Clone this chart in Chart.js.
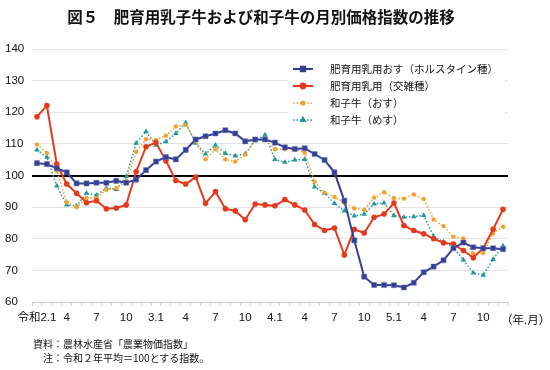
<!DOCTYPE html>
<html lang="ja">
<head>
<meta charset="utf-8">
<script src="https://cdn.jsdelivr.net/npm/chart.js@4.4.1/dist/chart.umd.min.js"></script>
<style>
  body { margin: 0; background: #fff; }
  #wrap { position: relative; width: 550px; height: 370px; background: #fff; }
  #chart { position: absolute; left: 0; top: 0; }
  .txt { position: absolute; font-family: 'Noto Sans CJK JP', sans-serif; color: #111; white-space: nowrap; }
  #title { left: 0; width: 522px; top: 5px; text-align: center; font-size: 15.5px; font-weight: bold; }
  #unit { left: 501px; top: 311px; font-size: 11.5px; }
  #src { left: 33px; top: 336px; font-size: 10px; }
  #note { left: 33px; top: 350px; font-size: 10px; }
</style>
</head>
<body>
<div id="wrap">
  <canvas id="chart" width="550" height="370"></canvas>
  <div class="txt" id="title">図５　肥育用乳子牛および和子牛の月別価格指数の推移</div>
  <div class="txt" id="unit">（年.月）</div>
  <div class="txt" id="src">資料：農林水産省「農業物価指数」</div>
  <div class="txt" id="note">　注：令和２年平均＝100とする指数。</div>
</div>
<script>
// 令和2年1月 〜 令和5年12月
const months = [
  '令和2.1', '', '', '4', '', '', '7', '', '', '10', '', '',
  '3.1', '', '', '4', '', '', '7', '', '', '10', '', '',
  '4.1', '', '', '4', '', '', '7', '', '', '10', '', '',
  '5.1', '', '', '4', '', '', '7', '', '', '10', '', ''
];

const holstein = [
  103.9, 103.6, 102.3, 101.0, 97.5, 97.5, 97.7, 97.7, 98.3, 97.7, 98.7, 101.7,
  104.4, 105.8, 105.1, 108.1, 111.4, 112.4, 113.3, 114.3, 113.3, 110.8, 111.4, 111.4,
  110.4, 108.9, 108.4, 108.6, 106.8, 104.9, 101.0, 92.0, 79.5, 68.0, 65.4, 65.4,
  65.3, 64.6, 66.1, 69.4, 71.2, 73.2, 77.0, 78.8, 77.3, 77.0, 77.0, 76.7
];
const crossbred = [
  118.6, 122.1, 103.6, 97.3, 94.4, 91.4, 92.0, 89.5, 89.7, 90.7, 101.2, 109.1,
  110.4, 104.7, 98.4, 97.3, 99.5, 91.2, 94.9, 89.5, 88.8, 86.0, 91.0, 90.7,
  90.4, 92.4, 90.7, 89.1, 84.5, 82.6, 83.4, 74.9, 83.0, 81.8, 86.8, 87.8,
  91.3, 84.2, 82.6, 81.6, 80.0, 78.7, 78.3, 76.3, 74.0, 77.0, 83.0, 89.3
];
const wagyuMale = [
  109.8, 107.1, 101.5, 91.5, 90.0, 92.8, 93.0, 95.5, 96.0, 98.2, 107.5, 111.5,
  111.2, 112.6, 115.5, 116.0, 110.8, 105.1, 108.3, 105.1, 104.4, 106.6, 111.2, 111.4,
  108.3, 108.3, 108.3, 107.2, 98.0, 94.6, 93.2, 91.4, 89.6, 89.1, 93.0, 94.7,
  92.8, 92.7, 94.0, 92.6, 86.1, 84.0, 80.6, 80.1, 75.3, 75.5, 81.7, 83.8
];
const wagyuFemale = [
  108.1, 105.8, 96.7, 90.7, 90.4, 94.4, 93.8, 96.0, 95.6, 99.6, 110.2, 113.9,
  109.6, 110.7, 113.3, 116.7, 110.2, 106.8, 109.6, 107.0, 106.2, 106.8, 111.0, 112.8,
  105.1, 104.2, 104.9, 105.1, 96.4, 94.4, 91.2, 88.8, 87.2, 87.8, 91.0, 91.3,
  87.3, 86.8, 87.0, 87.4, 80.7, 79.0, 77.3, 73.3, 69.2, 68.5, 73.5, 77.7
];

const seriesNames = ['肥育用乳用おす（ホルスタイン種）', '肥育用乳用（交雑種）', '和子牛（おす）', '和子牛（めす）'];
const yTicks = [60, 70, 80, 90, 100, 110, 120, 130, 140];

const fontFamily = "'Liberation Sans', 'Noto Sans CJK JP', sans-serif";

// legend box drawn inside the plot, top right
const boxLegend = {
  id: 'boxLegend',
  afterDatasetsDraw(chart) {
    const c = chart.ctx;
    c.save();
    c.fillStyle = '#fff';
    c.fillRect(288, 58, 217, 70);
    chart.data.datasets.forEach((ds, i) => {
      const y = 69 + i * 17;
      c.strokeStyle = ds.borderColor;
      c.lineWidth = ds.borderWidth;
      c.setLineDash(ds.borderDash || []);
      c.beginPath();
      c.moveTo(293, y);
      c.lineTo(313, y);
      c.stroke();
      c.setLineDash([]);
      c.fillStyle = ds.backgroundColor;
      c.strokeStyle = ds.backgroundColor;
      Chart.helpers.drawPoint(c, {
        pointStyle: ds.pointStyle, radius: ds.pointRadius * 0.85, borderWidth: 0.5
      }, 303, y);
      c.fillStyle = '#111';
      c.font = "10.5px 'Noto Sans CJK JP', sans-serif";
      c.textBaseline = 'middle';
      c.fillText(seriesNames[i], 330, y);
    });
    c.restore();
  }
};

const ctx = document.getElementById('chart').getContext('2d');
const chart = new Chart(ctx, {
  type: 'line',
  data: {
    labels: months,
    datasets: [
      {
        label: seriesNames[0],
        data: holstein,
        borderColor: '#333f97',
        backgroundColor: '#333f97',
        borderWidth: 2,
        pointStyle: 'rect',
        pointRadius: 3.6,
        pointBorderColor: '#6a74b8',
        pointBorderWidth: 0.5
      },
      {
        label: seriesNames[1],
        data: crossbred,
        borderColor: '#e5391d',
        backgroundColor: '#e5391d',
        borderWidth: 2,
        pointStyle: 'circle',
        pointRadius: 2.8,
        pointBorderWidth: 0
      },
      {
        label: seriesNames[2],
        data: wagyuMale,
        borderColor: '#f5a02c',
        backgroundColor: '#f5a02c',
        borderWidth: 1.5,
        borderDash: [1.5, 2],
        pointStyle: 'circle',
        pointRadius: 2.2,
        pointBorderWidth: 0
      },
      {
        label: seriesNames[3],
        data: wagyuFemale,
        borderColor: '#1e9a97',
        backgroundColor: '#1e9a97',
        borderWidth: 1.5,
        borderDash: [1.5, 2],
        pointStyle: 'triangle',
        pointRadius: 3.2,
        pointBorderWidth: 0
      }
    ]
  },
  options: {
    responsive: false,
    animation: false,
    layout: {
      padding: { left: 5, right: 42, top: 49, bottom: 38 }
    },
    plugins: {
      legend: { display: false },
      tooltip: { enabled: false }
    },
    elements: {
      line: { tension: 0 }
    },
    scales: {
      x: {
        offset: true,
        afterFit: s => { s.height = 30; },
        grid: {
          offset: true,
          drawOnChartArea: false,
          tickLength: 4,
          color: '#cfcfcf'
        },
        border: { color: '#cfcfcf' },
        ticks: {
          autoSkip: false,
          maxRotation: 0,
          padding: 5,
          color: '#111',
          font: { family: fontFamily, size: 11.5 }
        }
      },
      y: {
        min: 60,
        max: 140,
        afterFit: s => { s.width = 27; },
        afterBuildTicks: s => { s.ticks = yTicks.map(v => ({ value: v })); },
        border: { display: false },
        grid: {
          drawTicks: false,
          color: c => c.tick && c.tick.value === 100 ? '#000' : '#e4e4e4',
          lineWidth: c => c.tick && c.tick.value === 100 ? 2 : 1
        },
        ticks: {
          crossAlign: 'far',
          padding: 0,
          color: '#111',
          font: { family: fontFamily, size: 11.5 }
        }
      }
    }
  },
  plugins: [boxLegend]
});
</script>
</body>
</html>
